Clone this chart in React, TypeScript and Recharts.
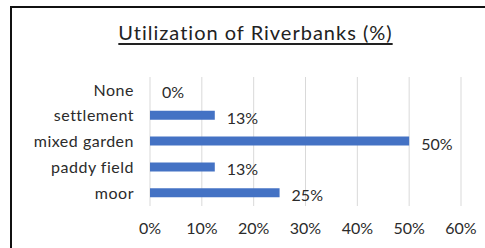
import { BarChart, Bar, XAxis, YAxis, CartesianGrid, LabelList, Rectangle } from "recharts";

const categories = ["None", "settlement", "mixed garden", "paddy field", "moor"];
const values = [0, 12.5, 50, 12.5, 25];
const xTicks = [0, 10, 20, 30, 40, 50, 60];

const data = categories.map((name, i) => ({ name, value: values[i] }));

const FONT = "Lato, sans-serif";
const TEXT = "#2b2b2b";

const renderValue = (props: any) => {
  const { x, y, width, height, value } = props;
  const w = Number(value) === 0 ? 0 : Number(width);
  return (
    <text
      x={Number(x) + w + 12}
      y={Number(y) + Number(height) / 2 + 2}
      dominantBaseline="central"
      fontSize={16}
      fill={TEXT}
      fontFamily={FONT}
    >
      {`${Math.round(Number(value))}%`}
    </text>
  );
};

const renderBar = (props: any) => {
  if (Number(props.value) === 0) return <g />;
  return <Rectangle {...props} />;
};

const App = () => {
  return (
    <div style={{ position: "absolute", left: 0, top: 0, width: 485, height: 248, fontFamily: FONT }}>
      <div
        style={{
          position: "absolute",
          left: 10,
          top: 6,
          width: 500,
          height: 260,
          border: "2px solid #111",
          boxSizing: "border-box",
        }}
      />
      <div
        style={{
          position: "absolute",
          left: 0,
          width: 511,
          top: 20,
          textAlign: "center",
          fontSize: 20,
          letterSpacing: 1,
          color: "#222",
          textDecoration: "underline",
          textUnderlineOffset: 3,
        }}
      >
        Utilization of Riverbanks (%)
      </div>
      <div style={{ position: "absolute", left: 0, top: 0 }}>
        <BarChart
          width={485}
          height={248}
          data={data}
          layout="vertical"
          margin={{ top: 77, right: 24, left: 0, bottom: 12 }}
        >
          <CartesianGrid horizontal={false} stroke="#d9d9d9" />
          <XAxis
            type="number"
            domain={[0, 60]}
            ticks={xTicks}
            tickFormatter={(v: number) => `${v}%`}
            axisLine={false}
            tickLine={false}
            tickMargin={11}
            tick={{ fontSize: 16, fill: TEXT, fontFamily: FONT }}
          />
          <YAxis
            type="category"
            dataKey="name"
            width={150}
            axisLine={false}
            tickLine={false}
            tickMargin={10}
            tick={{ fontSize: 16, fill: TEXT, fontFamily: FONT, letterSpacing: 0.5 }}
          />
          <Bar
            dataKey="value"
            fill="#4472C4"
            barSize={9}
            minPointSize={1}
            shape={renderBar}
            isAnimationActive={false}
          >
            <LabelList dataKey="value" content={renderValue} />
          </Bar>
        </BarChart>
      </div>
    </div>
  );
};

export default App;
